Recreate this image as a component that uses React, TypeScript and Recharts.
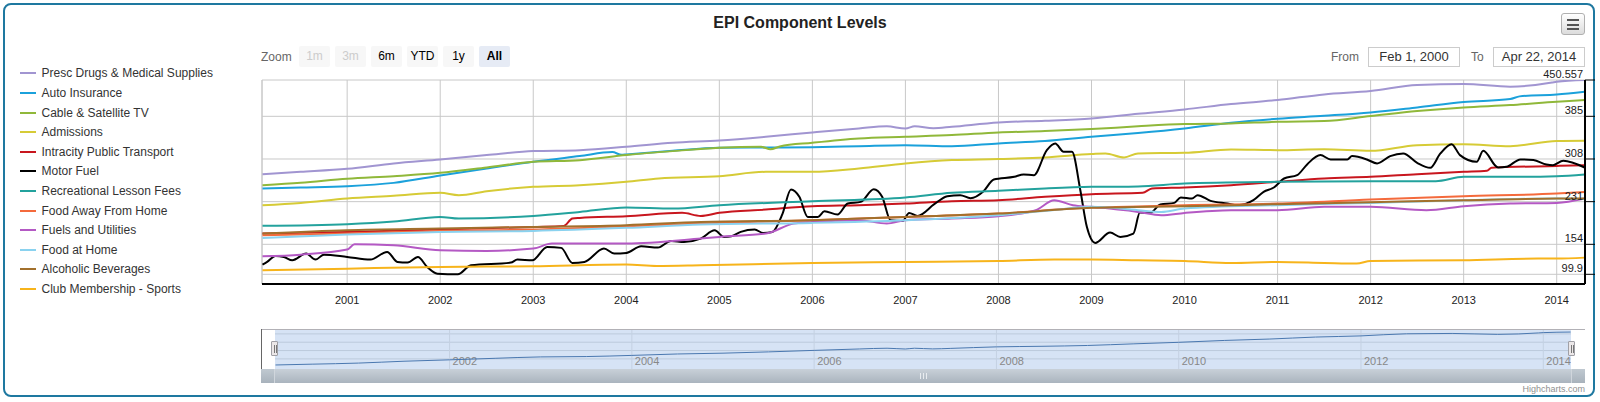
import React from "react"
import {
  LineChart, Line, XAxis, YAxis, CartesianGrid, ReferenceLine,
} from "recharts"

const FONT = '"Liberation Sans", Arial, Helvetica, sans-serif'

// x axis runs in decimal years: Feb 1, 2000 .. Apr 22, 2014
const X_MIN = 2000.0847
const X_MAX = 2014.3041
const YEAR_TICKS = [2001, 2002, 2003, 2004, 2005, 2006, 2007, 2008, 2009, 2010, 2011, 2012, 2013, 2014]
const NAV_YEAR_TICKS = [2002, 2004, 2006, 2008, 2010, 2012, 2014]

const Y_TICKS = [99.9, 154, 231, 308, 385, 450.557]
const Y_MIN = 82.4
const Y_MAX = 450.557
const NAV_Y_TICKS = [312, 355, 398, 441]
const NAV_Y_DOMAIN = [259.8, 466.2]

type Pt = [number, number]

const prescDrugs: Pt[] = [
  [2000.09, 280.6], [2000.5, 284.8], [2001, 290.3], [2001.5, 299.9], [2002, 307.1],
  [2002.5, 315.0], [2003, 322.2], [2003.5, 324.0], [2004, 330.0], [2004.5, 337.3],
  [2005, 341.5], [2005.5, 348.1], [2006, 355.9], [2006.5, 363.2], [2006.8, 367.0],
  [2007, 363.0], [2007.1, 367.0], [2007.3, 363.5], [2007.5, 366.2], [2008, 374.0],
  [2008.5, 377.0], [2009, 381.2], [2009.5, 389.5], [2010, 397.5], [2010.5, 407.1],
  [2011, 414.4], [2011.5, 424.6], [2012, 430.6], [2012.5, 441.5], [2013, 443.3],
  [2013.5, 438.5], [2013.95, 446.0], [2014, 447.5], [2014.3, 450.5],
]

const autoInsurance: Pt[] = [
  [2000.09, 254.7], [2000.5, 256.5], [2001, 258.9], [2001.5, 264.9], [2002, 278.2],
  [2002.5, 290.9], [2003, 302.9], [2003.5, 313.2], [2003.85, 320.4], [2003.95, 315.5],
  [2004, 316.2], [2004.5, 322.8], [2005, 328.2], [2005.5, 328.8], [2006, 329.4],
  [2006.5, 331.2], [2007, 333.0], [2007.5, 331.2], [2008, 336.1], [2008.5, 340.3],
  [2009, 348.1], [2009.5, 355.0], [2010, 363.2], [2010.5, 373.4], [2011, 380.6],
  [2011.5, 386.0], [2012, 392.1], [2012.5, 401.1], [2013, 410.7], [2013.5, 416.2],
  [2013.6, 421.0], [2014, 424.6], [2014.3, 429.4],
]

const cableTv: Pt[] = [
  [2000.09, 260.7], [2000.5, 265.0], [2001, 272.2], [2001.5, 277.0], [2002, 283.0],
  [2002.5, 292.7], [2003, 302.9], [2003.5, 305.9], [2004, 315.0], [2004.5, 322.2],
  [2005, 328.2], [2005.45, 330.0], [2005.55, 325.5], [2005.65, 330.5], [2006, 337.3],
  [2006.5, 345.1], [2007, 348.1], [2007.5, 351.1], [2008, 355.9], [2008.5, 358.3],
  [2009, 362.0], [2009.5, 367.0], [2010, 371.0], [2010.5, 372.2], [2011, 375.2],
  [2011.5, 376.4], [2012, 385.4], [2012.5, 394.5], [2013, 401.1], [2013.5, 405.3],
  [2014, 411.3], [2014.3, 414.4],
]

const admissions: Pt[] = [
  [2000.09, 224.6], [2000.5, 228.8], [2001, 236.6], [2001.5, 241.5], [2002, 246.9],
  [2002.2, 242.7], [2002.5, 249.9], [2003, 257.7], [2003.5, 260.7], [2004, 266.8],
  [2004.35, 272.8], [2005, 277.0], [2005.5, 284.8], [2006, 284.8], [2006.5, 290.9],
  [2007, 300.0], [2007.5, 306.0], [2008, 307.8], [2008.5, 310.8], [2009, 316.8],
  [2009.15, 318.0], [2009.35, 310.8], [2009.5, 318.0], [2010, 319.2], [2010.5, 325.2],
  [2011, 324.0], [2011.5, 325.8], [2012, 322.8], [2012.5, 333.0], [2013, 334.8],
  [2013.5, 331.2], [2014, 340.3], [2014.3, 340.8],
]

const intracityTransport: Pt[] = [
  [2000.09, 173.4], [2001, 176.4], [2002, 180.6], [2003, 185.4], [2003.33, 187.3],
  [2003.42, 200.5], [2003.5, 201.7], [2004, 204.7], [2004.6, 210.8], [2004.8, 205.3],
  [2005, 211.0], [2005.5, 216.8], [2006, 222.8], [2006.5, 224.6], [2007, 227.6],
  [2007.5, 231.8], [2008, 233.6], [2008.5, 239.7], [2009, 244.5], [2009.55, 246.9],
  [2009.65, 254.7], [2010, 256.5], [2010.5, 260.7], [2011, 266.8], [2011.5, 272.8],
  [2012, 275.8], [2012.5, 280.6], [2013, 284.8], [2013.25, 286.6], [2013.3, 292.1],
  [2014, 295.5], [2014.3, 296.9],
]

const fuelYears = [
  2000.09, 2000.14, 2000.23, 2000.32, 2000.41, 2000.56, 2000.66, 2000.75, 2001.0, 2001.25,
  2001.43, 2001.54, 2001.65, 2001.76, 2001.86, 2001.97, 2002.19, 2002.33, 2002.76, 2002.83,
  2002.99, 2003.15, 2003.3, 2003.42, 2003.55, 2003.76, 2003.87, 2004.0, 2004.16, 2004.34,
  2004.48, 2004.62, 2004.8, 2004.95, 2005.05, 2005.13, 2005.23, 2005.38, 2005.47, 2005.57,
  2005.68, 2005.77, 2005.86, 2005.95, 2006.06, 2006.13, 2006.27, 2006.38, 2006.52, 2006.66,
  2006.75, 2006.84, 2006.97, 2007.04, 2007.13, 2007.31, 2007.45, 2007.59, 2007.7, 2007.84,
  2007.95, 2008.17, 2008.27, 2008.38, 2008.52, 2008.61, 2008.7, 2008.79, 2008.88, 2008.95,
  2009.04, 2009.2, 2009.31, 2009.45, 2009.52, 2009.63, 2009.74, 2009.89, 2009.96, 2010.08,
  2010.14, 2010.28, 2010.46, 2010.57, 2010.74, 2010.85, 2010.96, 2011.07, 2011.21, 2011.32,
  2011.46, 2011.57, 2011.75, 2011.8, 2011.96, 2012.07, 2012.21, 2012.35, 2012.5, 2012.64,
  2012.75, 2012.87, 2012.96, 2013.14, 2013.21, 2013.37, 2013.46, 2013.61, 2013.75, 2013.89,
  2013.96, 2014.07, 2014.3,
]
const fuelValues = [
  117.4, 122.2, 133.0, 131.2, 125.2, 137.3, 126.4, 135.4, 131.2, 126.4,
  140.3, 122.2, 121.0, 131.2, 113.2, 101.1, 99.9, 116.2, 121.0, 126.4,
  125.2, 149.3, 147.6, 120.4, 122.2, 146.4, 137.3, 138.5, 150.5, 148.1,
  160.1, 158.3, 164.4, 179.4, 167.4, 168.6, 176.4, 180.6, 174.6, 176.4,
  209.5, 252.9, 239.7, 203.5, 203.5, 213.7, 207.7, 227.6, 230.6, 253.5,
  239.7, 197.5, 196.3, 210.7, 205.3, 226.4, 240.9, 242.7, 237.2, 249.9,
  271.0, 275.8, 280.0, 278.8, 324.0, 336.0, 321.0, 321.0, 251.7, 185.5,
  156.5, 175.2, 167.4, 173.4, 211.3, 210.7, 225.8, 228.8, 238.5, 236.6,
  242.7, 232.4, 227.6, 224.6, 233.6, 248.7, 256.5, 272.8, 278.8, 298.7,
  315.0, 307.2, 307.2, 313.2, 307.2, 299.9, 313.2, 318.0, 301.1, 292.1,
  318.0, 334.8, 315.0, 302.9, 322.8, 292.7, 293.9, 307.2, 306.0, 298.0,
  296.9, 304.8, 292.6,
]
const motorFuel: Pt[] = fuelYears.map((t, i) => [t, fuelValues[i]])

const lessonFees: Pt[] = [
  [2000.09, 187.3], [2001, 190.3], [2001.5, 195.0], [2002, 203.5], [2002.2, 200.5],
  [2003, 205.3], [2003.5, 212.5], [2004, 220.4], [2004.5, 218.5], [2005, 224.6],
  [2006, 231.8], [2007, 238.5], [2007.5, 246.9], [2008, 250.5], [2008.5, 254.7],
  [2009, 257.7], [2009.5, 258.5], [2010, 263.7], [2011, 266.8], [2012, 268.0],
  [2012.7, 268.0], [2013, 275.8], [2013.5, 275.8], [2014, 277.0], [2014.3, 280.1],
]

const foodAway: Pt[] = [
  [2000.09, 170.4], [2001, 173.4], [2002, 178.2], [2003, 180.6], [2004, 186.7],
  [2004.8, 191.5], [2006, 197.5], [2007, 203.5], [2008, 209.5], [2009, 220.4],
  [2009.6, 222.8], [2010, 224.6], [2011, 227.6], [2012, 234.8], [2013, 240.9],
  [2014, 245.7], [2014.3, 248.6],
]

const fuelsUtilities: Pt[] = [
  [2000.09, 132.4], [2000.5, 135.4], [2001, 144.5], [2001.08, 154.1], [2001.5, 152.3],
  [2002, 143.3], [2002.5, 142.1], [2003, 146.4], [2003.2, 155.3], [2004, 155.3],
  [2004.8, 164.4], [2005, 167.4], [2005.5, 173.4], [2005.8, 191.5], [2006, 194.5],
  [2006.5, 197.5], [2006.8, 191.5], [2007, 197.5], [2007.5, 200.5], [2008, 204.7],
  [2008.4, 215.6], [2008.6, 233.6], [2008.8, 224.6], [2009, 221.6], [2009.5, 212.5],
  [2009.75, 206.5], [2010, 210.7], [2010.5, 215.6], [2011, 215.6], [2011.5, 221.6],
  [2012, 221.6], [2012.6, 215.6], [2013, 222.8], [2013.5, 227.6], [2014, 228.8],
  [2014.3, 236.7],
]

const foodAtHome: Pt[] = [
  [2000.09, 165.6], [2001, 171.6], [2002, 176.4], [2003, 178.2], [2004, 183.7],
  [2004.8, 189.7], [2006, 192.7], [2007, 197.5], [2008, 206.5], [2008.6, 216.0],
  [2009, 221.6], [2009.5, 215.6], [2009.75, 212.5], [2010, 218.6], [2011, 224.6],
  [2012, 228.8], [2013, 233.6], [2014, 236.6], [2014.3, 236.0],
]

const alcoholicBeverages: Pt[] = [
  [2000.09, 173.4], [2001, 179.4], [2002, 182.4], [2003, 185.4], [2004, 188.5],
  [2004.8, 194.5], [2006, 197.5], [2007, 203.5], [2008, 209.5], [2009, 219.8],
  [2010, 222.8], [2011, 226.4], [2012, 230.0], [2013, 233.6], [2014, 236.6],
  [2014.3, 236.7],
]

const clubMembership: Pt[] = [
  [2000.09, 107.1], [2001, 110.1], [2002, 113.2], [2003, 114.4], [2004, 117.4],
  [2004.33, 115.0], [2004.8, 116.2], [2006, 120.4], [2007, 122.2], [2008, 124.0],
  [2008.6, 126.4], [2009, 126.4], [2009.5, 125.2], [2010, 124.0], [2010.5, 120.4],
  [2011, 122.2], [2011.5, 120.4], [2011.85, 119.2], [2012, 124.0], [2013, 125.2],
  [2013.8, 128.2], [2014, 128.2], [2014.3, 130.0],
]

const SERIES = [
  { name: "Presc Drugs & Medical Supplies", color: "#a195d1", data: prescDrugs },
  { name: "Auto Insurance", color: "#1ba1db", data: autoInsurance },
  { name: "Cable & Satellite TV", color: "#90b83a", data: cableTv },
  { name: "Admissions", color: "#d6cb36", data: admissions },
  { name: "Intracity Public Transport", color: "#c8161e", data: intracityTransport },
  { name: "Motor Fuel", color: "#000000", data: motorFuel },
  { name: "Recreational Lesson Fees", color: "#23a29d", data: lessonFees },
  { name: "Food Away From Home", color: "#f46a3c", data: foodAway },
  { name: "Fuels and Utilities", color: "#b459c4", data: fuelsUtilities },
  { name: "Food at Home", color: "#8ad2ef", data: foodAtHome },
  { name: "Alcoholic Beverages", color: "#a2702c", data: alcoholicBeverages },
  { name: "Club Membership - Sports", color: "#f7b41b", data: clubMembership },
]

const ZOOM_BUTTONS = ["1m", "3m", "6m", "YTD", "1y", "All"]

const rows = (pts: Pt[]) => pts.map(([t, v]) => ({ t, v }))

function XTick({ x, y, payload }: any) {
  return (
    <text x={x} y={y + 20} textAnchor="middle" fontSize={11} fill="#222" fontFamily={FONT}>
      {payload.value}
    </text>
  )
}

function YTick({ x, y, payload }: any) {
  return (
    <text x={x - 12} y={y - 2} textAnchor="end" fontSize={11} fill="#222" fontFamily={FONT}>
      {String(payload.value)}
    </text>
  )
}

function Legend() {
  return (
    <>
      {SERIES.map((s, i) => (
        <div
          key={s.name}
          style={{
            position: "absolute", left: 20, top: 73.3 + i * 19.6 - 7, height: 14,
            lineHeight: "14px", fontSize: 12, color: "#333", whiteSpace: "nowrap",
          }}
        >
          <span style={{
            position: "absolute", left: 0, top: 6, width: 16, height: 2, background: s.color,
          }} />
          <span style={{ position: "absolute", left: 21.5, top: 0 }}>{s.name}</span>
        </div>
      ))}
    </>
  )
}

function RangeSelector() {
  return (
    <>
      <div style={{ position: "absolute", left: 261, top: 49.5, fontSize: 12, lineHeight: "14px", color: "#666" }}>
        Zoom
      </div>
      {ZOOM_BUTTONS.map((b, i) => {
        const disabled = i < 2
        const selected = b === "All"
        return (
          <div
            key={b}
            style={{
              position: "absolute", left: 299 + i * 36, top: 46, width: 31, height: 21,
              lineHeight: "21px", textAlign: "center", fontSize: 12, borderRadius: 2,
              background: selected ? "#e6ebf5" : "#f7f7f7",
              color: disabled ? "#cccccc" : "#000",
              fontWeight: selected ? "bold" : "normal",
            }}
          >
            {b}
          </div>
        )
      })}
      <div style={{ position: "absolute", left: 1331, top: 49.5, fontSize: 12, lineHeight: "14px", color: "#666" }}>
        From
      </div>
      <div style={{
        position: "absolute", left: 1368, top: 46.5, width: 92, height: 20, boxSizing: "border-box",
        border: "1px solid #cccccc", fontSize: 13, lineHeight: "18px", textAlign: "center", color: "#333",
      }}>
        Feb 1, 2000
      </div>
      <div style={{ position: "absolute", left: 1471, top: 49.5, fontSize: 12, lineHeight: "14px", color: "#666" }}>
        To
      </div>
      <div style={{
        position: "absolute", left: 1493, top: 46.5, width: 92, height: 20, boxSizing: "border-box",
        border: "1px solid #cccccc", fontSize: 13, lineHeight: "18px", textAlign: "center", color: "#333",
      }}>
        Apr 22, 2014
      </div>
    </>
  )
}

function MenuButton() {
  return (
    <div style={{
      position: "absolute", left: 1561, top: 13, width: 24, height: 22, boxSizing: "border-box",
      border: "1px solid #b0b0b0", borderRadius: 3,
      background: "linear-gradient(#ffffff, #dcdcdc)",
    }}>
      {[5, 9.5, 14].map((t) => (
        <div key={t} style={{
          position: "absolute", left: 5, top: t, width: 12, height: 2, background: "#555",
        }} />
      ))}
    </div>
  )
}

function Navigator() {
  return (
    <>
      {/* navigator frame */}
      <div style={{ position: "absolute", left: 261, top: 329, width: 1324, height: 40, background: "#fff" }} />
      <div style={{ position: "absolute", left: 275, top: 329, width: 1296, height: 40, background: "#d6e3f5" }} />
      <div style={{ position: "absolute", left: 275, top: 329 }}>
        <LineChart width={1296} height={40} margin={{ top: 0, right: 0, bottom: 0, left: 0 }}>
          <XAxis dataKey="t" type="number" domain={[X_MIN, X_MAX]} hide allowDataOverflow />
          <YAxis type="number" domain={NAV_Y_DOMAIN} hide allowDataOverflow />
          {NAV_Y_TICKS.map((v) => (
            <ReferenceLine key={v} y={v} stroke="#bccadc" strokeWidth={1} />
          ))}
          {NAV_YEAR_TICKS.map((yr) => (
            <ReferenceLine
              key={yr}
              x={yr}
              stroke="#c4d1e2"
              strokeWidth={1}
              label={(p: any) => (
                <text x={(p.viewBox?.x ?? 0) + 3} y={36} fontSize={11} fill="#888" fontFamily={FONT}>
                  {yr}
                </text>
              )}
            />
          ))}
          <Line
            data={rows(prescDrugs)}
            dataKey="v"
            type="monotone"
            stroke="#4a78b0"
            strokeWidth={1}
            dot={false}
            isAnimationActive={false}
          />
        </LineChart>
      </div>
      <div style={{ position: "absolute", left: 261, top: 329, width: 1324, height: 1, background: "#b2b1b6" }} />
      <div style={{ position: "absolute", left: 261, top: 329, width: 1, height: 40, background: "#666" }} />
      {/* handles */}
      {[271, 1568].map((l) => (
        <div key={l} style={{
          position: "absolute", left: l, top: 341, width: 7, height: 15, boxSizing: "border-box",
          border: "1px solid #a0a0a6", background: "#ebe7e8", borderRadius: 1,
        }}>
          <div style={{ position: "absolute", left: 1.5, top: 3, width: 1, height: 8, background: "#777" }} />
          <div style={{ position: "absolute", left: 3.5, top: 3, width: 1, height: 8, background: "#777" }} />
        </div>
      ))}
      {/* scrollbar */}
      <div style={{
        position: "absolute", left: 261, top: 369, width: 1324, height: 14,
        background: "linear-gradient(#c8d0d8, #aab4be)",
      }} />
      <div style={{
        position: "absolute", left: 261, top: 369, width: 14, height: 14,
        background: "linear-gradient(#c0c9d1, #a8b2bc)", borderRight: "1px solid #d0d6dc", boxSizing: "border-box",
      }} />
      <div style={{
        position: "absolute", left: 1571, top: 369, width: 14, height: 14,
        background: "linear-gradient(#c0c9d1, #a8b2bc)", borderLeft: "1px solid #d0d6dc", boxSizing: "border-box",
      }} />
      {[920, 923, 926].map((l) => (
        <div key={l} style={{ position: "absolute", left: l, top: 373, width: 1, height: 6, background: "#e8ecf0" }} />
      ))}
      <div style={{
        position: "absolute", right: 15, top: 384, fontSize: 9, lineHeight: "11px", color: "#909090",
      }}>
        Highcharts.com
      </div>
    </>
  )
}

export default function App() {
  return (
    <div style={{
      position: "absolute", left: 0, top: 0, width: 1600, height: 402, background: "#fff",
      fontFamily: FONT, overflow: "hidden",
    }}>
      <div style={{
        position: "absolute", left: 3, top: 3, width: 1592, height: 394, boxSizing: "border-box",
        border: "2px solid #1e78a0", borderRadius: 8,
      }} />
      <div style={{
        position: "absolute", left: 0, top: 14, width: 1600, textAlign: "center",
        fontSize: 16, lineHeight: "18px", fontWeight: "bold", color: "#222",
      }}>
        EPI Component Levels
      </div>
      <MenuButton />
      <Legend />
      <RangeSelector />

      <div style={{ position: "absolute", left: 252, top: 60 }}>
        <LineChart width={1348} height={254} margin={{ top: 20, right: 5, bottom: 0, left: 10 }}>
          <CartesianGrid stroke="#c8c8c8" strokeWidth={1} />
          <XAxis
            dataKey="t"
            type="number"
            domain={[X_MIN, X_MAX]}
            ticks={YEAR_TICKS}
            allowDataOverflow
            height={30}
            tickLine={false}
            tickSize={0}
            tickMargin={0}
            axisLine={{ stroke: "#000", strokeWidth: 2 }}
            tick={<XTick />}
          />
          <YAxis
            orientation="right"
            type="number"
            domain={[Y_MIN, Y_MAX]}
            ticks={Y_TICKS}
            allowDataOverflow
            width={10}
            tickSize={10}
            tickMargin={0}
            tickLine={{ stroke: "#000" }}
            axisLine={{ stroke: "#000", strokeWidth: 2 }}
            tick={<YTick />}
          />
          <ReferenceLine x={X_MIN} stroke="#c8c8c8" />
          {SERIES.map((s) => (
            <Line
              key={s.name}
              data={rows(s.data)}
              dataKey="v"
              name={s.name}
              type="monotone"
              stroke={s.color}
              strokeWidth={2}
              dot={false}
              isAnimationActive={false}
            />
          ))}
        </LineChart>
      </div>

      <Navigator />
    </div>
  )
}
